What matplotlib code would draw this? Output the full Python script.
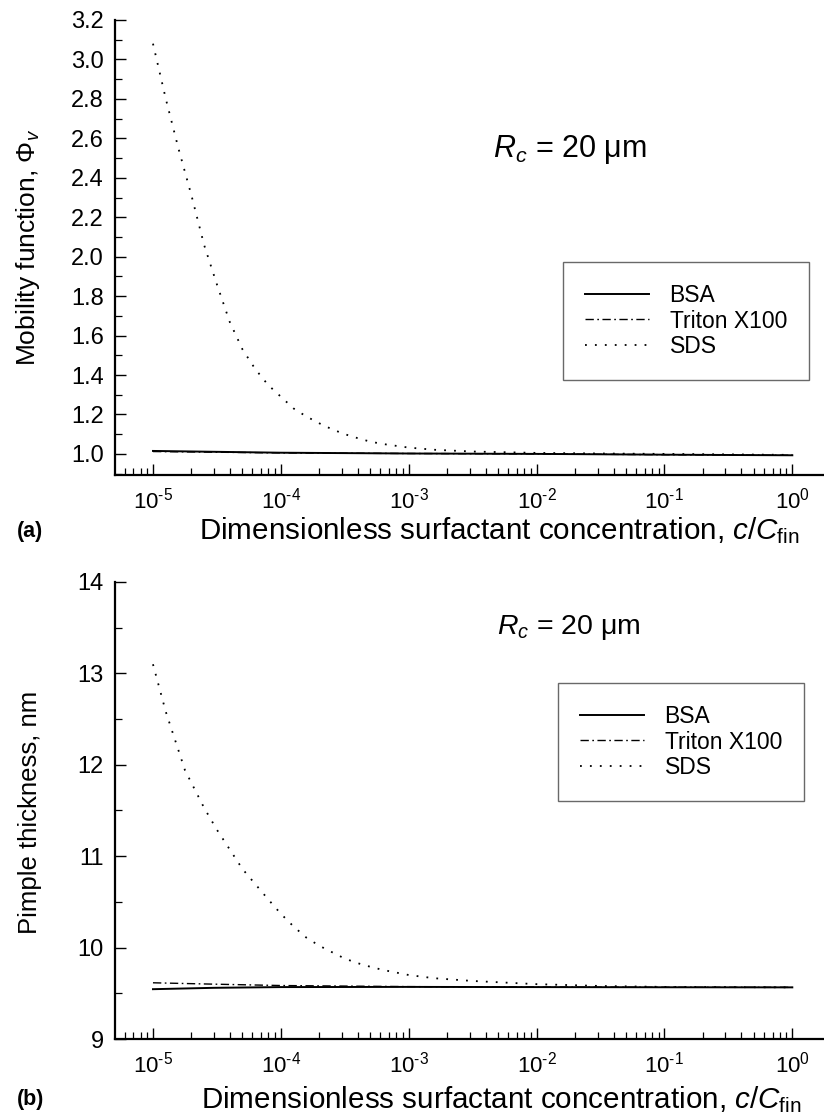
import matplotlib
matplotlib.use("Agg")
import matplotlib.pyplot as plt
from matplotlib.ticker import FixedLocator, LogLocator, NullFormatter, MultipleLocator, FormatStrFormatter

plt.rcParams['font.family'] = ['Liberation Sans', 'DejaVu Sans']
plt.rcParams['mathtext.fontset'] = 'custom'
plt.rcParams['mathtext.rm'] = 'Liberation Sans'
plt.rcParams['mathtext.it'] = 'Liberation Sans:italic'
plt.rcParams['mathtext.bf'] = 'Liberation Sans:bold'

# ---------------- data ----------------
series_names = ["BSA", "Triton X100", "SDS"]

# panel (a): mobility function
a_bsa_x = [1e-5, 1e-4, 1e-3, 1e-2, 1e-1, 1.0]
a_bsa_y = [1.015, 1.006, 1.002, 1.000, 0.996, 0.993]
a_tri_x = [1e-5, 1e-4, 1e-3, 1e-2, 1e-1, 1.0]
a_tri_y = [1.012, 1.005, 1.002, 1.000, 0.996, 0.993]
a_sds_x = [1.0e-5, 1.26e-5, 1.58e-5, 2.0e-5, 2.51e-5, 3.16e-5, 3.98e-5, 5.01e-5,
           6.31e-5, 7.94e-5, 1.0e-4, 1.26e-4, 1.58e-4, 2.0e-4, 2.51e-4, 3.16e-4,
           3.98e-4, 5.01e-4, 6.31e-4, 1.0e-3, 1.58e-3, 3.16e-3, 1.0e-2, 3.16e-2,
           1.0e-1, 1.0]
a_sds_y = [3.08, 2.80, 2.55, 2.31, 2.06, 1.86, 1.67, 1.53,
           1.43, 1.35, 1.29, 1.23, 1.19, 1.155, 1.125, 1.10,
           1.08, 1.062, 1.05, 1.032, 1.021, 1.012, 1.005, 1.002,
           1.000, 0.995]

# panel (b): pimple thickness, nm
b_bsa_x = [1e-5, 3e-5, 1e-4, 1e-3, 1e-2, 1e-1, 1.0]
b_bsa_y = [9.545, 9.560, 9.568, 9.570, 9.568, 9.566, 9.565]
b_tri_x = [1e-5, 3e-5, 1e-4, 1e-3, 1e-2, 1e-1, 1.0]
b_tri_y = [9.615, 9.600, 9.585, 9.573, 9.568, 9.566, 9.565]
b_sds_x = [1.0e-5, 1.26e-5, 1.78e-5, 2.51e-5, 3.16e-5, 5.01e-5, 7.94e-5, 1.0e-4,
           1.26e-4, 1.58e-4, 2.0e-4, 2.51e-4, 3.16e-4, 3.98e-4, 5.01e-4, 6.31e-4,
           1.0e-3, 1.58e-3, 3.16e-3, 1.0e-2, 3.16e-2, 1.0e-1, 1.0]
b_sds_y = [13.10, 12.58, 11.94, 11.53, 11.29, 10.86, 10.53, 10.37,
           10.23, 10.11, 10.02, 9.95, 9.88, 9.83, 9.79, 9.755,
           9.70, 9.665, 9.635, 9.600, 9.580, 9.570, 9.565]

xtick_vals = [1e-5, 1e-4, 1e-3, 1e-2, 1e-1, 1.0]
xtick_labels = ['$10^{\u20105}$', '$10^{\u20104}$', '$10^{\u20103}$',
                '$10^{\u20102}$', '$10^{\u20101}$', '$10^{0}$']

# ---------------- figure ----------------
W, H = 824, 1114
fig = plt.figure(figsize=(W / 100, H / 100), dpi=100)

def fx(px):
    return px / W

def fy(py):
    return 1 - py / H

ax1 = fig.add_axes([fx(115), fy(475), fx(823) - fx(115), fy(20) - fy(475)])
ax2 = fig.add_axes([fx(115), fy(1039), fx(823) - fx(115), fy(582) - fy(1039)])

solid = dict(color='black', lw=1.4, linestyle='-')
dashdot = dict(color='black', lw=1.0, linestyle=(0, (6, 2.5, 1.2, 2.5)))
dotted = dict(color='black', lw=1.3, linestyle=(0, (1, 4.5)))

def style_axes(ax):
    ax.set_xscale('log')
    ax.set_xlim(10 ** -5.297, 10 ** 0.24)
    for s in ['top', 'right']:
        ax.spines[s].set_visible(False)
    for s in ['left', 'bottom']:
        ax.spines[s].set_linewidth(1.6)
    ax.xaxis.set_major_locator(FixedLocator(xtick_vals))
    ax.set_xticklabels(xtick_labels)
    ax.xaxis.set_minor_locator(LogLocator(base=10, subs=range(2, 10), numticks=20))
    ax.xaxis.set_minor_formatter(NullFormatter())
    ax.tick_params(axis='both', which='major', direction='in', length=8, width=1.0,
                   top=False, right=False)
    ax.tick_params(axis='both', which='minor', direction='in', length=5, width=0.9,
                   top=False, right=False)
    ax.tick_params(axis='x', which='major', pad=9, labelsize=16)
    ax.tick_params(axis='y', which='major', pad=8, labelsize=17)

# panel (a)
ax1.plot(a_sds_x, a_sds_y, label=series_names[2], zorder=2, **dotted)
ax1.plot(a_tri_x, a_tri_y, label=series_names[1], zorder=3, **dashdot)
ax1.plot(a_bsa_x, a_bsa_y, label=series_names[0], zorder=4, **solid)
style_axes(ax1)
ax1.set_ylim(0.893, 3.2)
ax1.yaxis.set_major_locator(MultipleLocator(0.2))
ax1.yaxis.set_minor_locator(MultipleLocator(0.1))
ax1.yaxis.set_major_formatter(FormatStrFormatter('%.1f'))

# panel (b)
ax2.plot(b_sds_x, b_sds_y, label=series_names[2], zorder=2, **dotted)
ax2.plot(b_tri_x, b_tri_y, label=series_names[1], zorder=3, **dashdot)
ax2.plot(b_bsa_x, b_bsa_y, label=series_names[0], zorder=4, **solid)
style_axes(ax2)
ax2.set_ylim(9, 14)
ax2.yaxis.set_major_locator(MultipleLocator(1))
ax2.yaxis.set_minor_locator(MultipleLocator(0.5))

# legends
for ax, (lx, ly) in [(ax1, (563, 262)), (ax2, (558, 683))]:
    h, l = ax.get_legend_handles_labels()
    order = [2, 1, 0]
    leg = ax.legend([h[i] for i in order], [l[i] for i in order],
                    loc='upper left', bbox_to_anchor=(fx(lx), fy(ly)),
                    bbox_transform=fig.transFigure, fontsize=16.5, frameon=True,
                    fancybox=False, edgecolor='#444444', borderpad=0.95,
                    labelspacing=0.12, handlelength=2.8, handletextpad=0.9,
                    borderaxespad=0)
    leg.get_frame().set_linewidth(1.0)

# annotations
fig.text(fx(493), fy(150), r'$R_c$ = 20 μm', fontsize=22, ha='left', va='center')
fig.text(fx(497), fy(628), r'$R_c$ = 20 μm', fontsize=20.5, ha='left', va='center')

# axis labels
xlab = r'Dimensionless surfactant concentration, $c/C_{\mathrm{fin}}$'
fig.text(fx(499), fy(531), xlab, fontsize=21.3, ha='center', va='center')
fig.text(fx(501), fy(1100), xlab, fontsize=21.3, ha='center', va='center')
fig.text(fx(17), fy(531), '(a)', fontsize=15.5, fontweight='bold', ha='left', va='center')
fig.text(fx(17), fy(1100), '(b)', fontsize=15.5, fontweight='bold', ha='left', va='center')
fig.text(fx(28), fy(247), r'Mobility function, $\Phi_v$', fontsize=19, rotation=90,
         ha='center', va='center')
fig.text(fx(30), fy(812), 'Pimple thickness, nm', fontsize=18.5, rotation=90,
         ha='center', va='center')

fig.savefig('out.png', dpi=100)
